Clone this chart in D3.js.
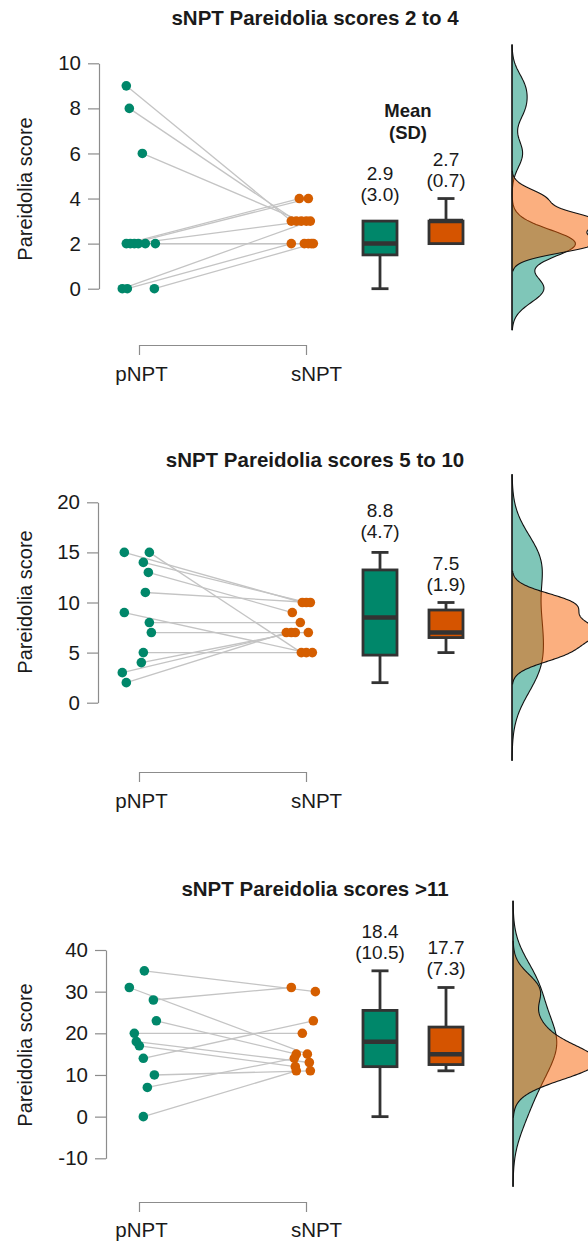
<!DOCTYPE html>
<html>
<head>
<meta charset="utf-8">
<script src="https://cdn.jsdelivr.net/npm/d3@7"></script>
<style>
  body { margin: 0; background: #fff; }
  text { font-family: "Liberation Sans", Arial, sans-serif; fill: #1a1a1a; }
</style>
</head>
<body>
<svg id="chart" width="588" height="1244"></svg>
<script>
// ---- data ----
const groups = ["pNPT", "sNPT"];
const titles = ["sNPT Pareidolia scores 2 to 4", "sNPT Pareidolia scores 5 to 10", "sNPT Pareidolia scores >11"];
const yLabel = "Pareidolia score";
const header = ["Mean", "(SD)"];

// panel 1
const ticks1 = [0, 2, 4, 6, 8, 10];
const pre1 = [9, 8, 6, 2, 2, 2, 2, 2, 2, 0, 0, 0];
const post1 = [3, 3, 3, 4, 4, 3, 2, 2, 2, 3, 2, 2];
const preJit1 = [-0.076, -0.058, 0.020, -0.076, -0.052, -0.028, -0.004, 0.038, 0.098, -0.100, -0.070, 0.092];
const postJit1 = [-0.088, -0.058, -0.028, -0.040, 0.014, 0.002, -0.010, 0.014, 0.032, 0.026, -0.088, 0.044];
const means1 = ["2.9", "2.7"];
const sds1 = ["(3.0)", "(0.7)"];

// panel 2
const ticks2 = [0, 5, 10, 15, 20];
const pre2 = [15, 15, 14, 13, 11, 9, 8, 7, 5, 4, 3, 2];
const post2 = [10, 5, 10, 9, 10, 5, 8, 7, 5, 7, 7, 7];
const preJit2 = [-0.088, 0.062, 0.026, 0.056, 0.038, -0.088, 0.062, 0.074, 0.026, 0.014, -0.100, -0.076];
const postJit2 = [-0.022, -0.028, 0.002, -0.082, 0.026, 0.002, -0.034, 0.014, 0.038, -0.064, -0.088, -0.118];
const means2 = ["8.8", "7.5"];
const sds2 = ["(4.7)", "(1.9)"];

// panel 3
const ticks3 = [-10, 0, 10, 20, 30, 40];
const pre3 = [35, 31, 28, 23, 20, 18, 17, 14, 10, 7, 0];
const post3 = [30, 15, 31, 15, 20, 13, 12, 23, 11, 14, 11];
const preJit3 = [0.032, -0.058, 0.086, 0.104, -0.028, -0.016, 0.002, 0.026, 0.092, 0.050, 0.026];
const postJit3 = [0.056, 0.008, -0.088, -0.058, -0.022, 0.020, -0.064, 0.044, 0.026, -0.070, -0.058];
const means3 = ["18.4", "17.7"];
const sds3 = ["(10.5)", "(7.3)"];

// ---- layout ----
const colDot = ["#00876a", "#d55e00"];
const colBox = ["#00876a", "#d55400"];
const colDens = ["#008d71", "#f86000"];

const panels = [
  { title: titles[0], ticks: ticks1, pre: pre1, post: post1, preJit: preJit1, postJit: postJit1, means: means1, sds: sds1,
    titleY: 25, axisX: 99, yTop: 63.3, yBot: 288.7, bracketY: 345, labelY: 381, yTitleY: 189, densX: 512, header: true, lift: 8 },
  { title: titles[1], ticks: ticks2, pre: pre2, post: post2, preJit: preJit2, postJit: postJit2, means: means2, sds: sds2,
    titleY: 467, axisX: 98, yTop: 502.3, yBot: 702.7, bracketY: 772, labelY: 808, yTitleY: 602, densX: 512, header: false, lift: 2 },
  { title: titles[2], ticks: ticks3, pre: pre3, post: post3, preJit: preJit3, postJit: postJit3, means: means3, sds: sds3,
    titleY: 896, axisX: 106, yTop: 950, yBot: 1158.3, bracketY: 1202, labelY: 1237, yTitleY: 1055, densX: 513, header: false, lift: 0 }
];

const svg = d3.select("#chart");
const xs = d3.scalePoint().domain(groups).range([139, 306]);
const xb = d3.scalePoint().domain(groups).range([380, 446]);

function boxStats(v) {
  const s = v.slice().sort(d3.ascending);
  const q1 = d3.quantile(s, 0.25), med = d3.quantile(s, 0.5), q3 = d3.quantile(s, 0.75);
  const iqr = q3 - q1;
  const lo = d3.min(s.filter(d => d >= q1 - 1.5 * iqr));
  const hi = d3.max(s.filter(d => d <= q3 + 1.5 * iqr));
  return { q1, med, q3, lo, hi };
}

// gaussian kernel density, R style (bw.nrd0, cut = 3)
function kde(v) {
  const s = v.slice().sort(d3.ascending);
  const iqr = d3.quantile(s, 0.75) - d3.quantile(s, 0.25);
  const bw = 0.9 * Math.min(d3.deviation(s), iqr / 1.34) * Math.pow(s.length, -0.2);
  const from = d3.min(s) - 3 * bw, to = d3.max(s) + 3 * bw;
  return d3.range(201).map(i => {
    const t = from + (to - from) * i / 200;
    const dens = d3.mean(s, d => Math.exp(-0.5 * ((t - d) / bw) ** 2)) / (bw * Math.sqrt(2 * Math.PI));
    return [t, dens];
  });
}

panels.forEach(p => {
  const g = svg.append("g");
  const y = d3.scaleLinear().domain(d3.extent(p.ticks)).range([p.yBot, p.yTop]);

  // title
  g.append("text").attr("x", 315).attr("y", p.titleY).attr("text-anchor", "middle")
    .style("font-size", "20.5px").style("font-weight", "bold").text(p.title);

  // y axis
  const ya = g.append("g").attr("transform", `translate(${p.axisX},0)`)
    .call(d3.axisLeft(y).tickValues(p.ticks).tickFormat(d => String(d))
      .tickSize(11).tickSizeOuter(0).tickPadding(7));
  ya.selectAll("path, line").attr("stroke", "#8c8c8c").attr("stroke-width", 1.2);
  ya.selectAll("text").style("font-size", "20.5px").attr("fill", "#1a1a1a")
    .style("font-family", "'Liberation Sans', Arial, sans-serif");

  g.append("text").attr("transform", `translate(32,${p.yTitleY}) rotate(-90)`)
    .attr("text-anchor", "middle").style("font-size", "20px").text(yLabel);

  // bottom bracket axis
  const xa = g.append("g").attr("transform", `translate(0,${p.bracketY})`)
    .call(d3.axisBottom(xs).tickSize(10).tickSizeOuter(0).tickPadding(p.labelY - p.bracketY - 10 - 14.5));
  xa.selectAll("path, line").attr("stroke", "#8c8c8c").attr("stroke-width", 1.2);
  xa.selectAll("text").style("font-size", "20.5px").attr("fill", "#1a1a1a")
    .style("font-family", "'Liberation Sans', Arial, sans-serif")
    .attr("dx", d => d === "sNPT" ? 10 : 2);

  // paired lines
  const step = xs.step();
  const px = (grp, j) => xs(grp) + j * step;
  g.append("g").selectAll("line").data(p.pre).join("line")
    .attr("x1", (d, i) => px("pNPT", p.preJit[i])).attr("y1", d => y(d))
    .attr("x2", (d, i) => px("sNPT", p.postJit[i])).attr("y2", (d, i) => y(p.post[i]))
    .attr("stroke", "#c4c4c4").attr("stroke-width", 1.3);

  // dots
  g.append("g").selectAll("circle").data(p.pre).join("circle")
    .attr("cx", (d, i) => px("pNPT", p.preJit[i])).attr("cy", d => y(d)).attr("r", 4.8)
    .attr("fill", colDot[0]);
  g.append("g").selectAll("circle").data(p.post).join("circle")
    .attr("cx", (d, i) => px("sNPT", p.postJit[i])).attr("cy", d => y(d)).attr("r", 4.8)
    .attr("fill", colDot[1]);

  // boxplots + mean labels
  [p.pre, p.post].forEach((vals, k) => {
    const st = boxStats(vals);
    const cx = xb(groups[k]), w = 34;
    const bg = g.append("g");
    if (st.hi > st.q3) {
      bg.append("line").attr("x1", cx).attr("x2", cx).attr("y1", y(st.q3)).attr("y2", y(st.hi));
      bg.append("line").attr("x1", cx - 8.5).attr("x2", cx + 8.5).attr("y1", y(st.hi)).attr("y2", y(st.hi));
    }
    if (st.lo < st.q1) {
      bg.append("line").attr("x1", cx).attr("x2", cx).attr("y1", y(st.q1)).attr("y2", y(st.lo));
      bg.append("line").attr("x1", cx - 8.5).attr("x2", cx + 8.5).attr("y1", y(st.lo)).attr("y2", y(st.lo));
    }
    bg.selectAll("line").attr("stroke", "#333").attr("stroke-width", 2.8);
    bg.append("rect").attr("x", cx - w / 2).attr("width", w)
      .attr("y", y(st.q3)).attr("height", y(st.q1) - y(st.q3))
      .attr("fill", colBox[k]).attr("stroke", "#333").attr("stroke-width", 2.8);
    bg.append("line").attr("x1", cx - w / 2).attr("x2", cx + w / 2)
      .attr("y1", y(st.med)).attr("y2", y(st.med)).attr("stroke", "#333").attr("stroke-width", 4.5);

    const top = y(Math.max(st.hi, st.q3)) - (k === 0 ? p.lift : 0);
    g.append("text").attr("x", cx).attr("y", top - 33).attr("text-anchor", "middle")
      .style("font-size", "19px").text(p.means[k]);
    g.append("text").attr("x", cx).attr("y", top - 12).attr("text-anchor", "middle")
      .style("font-size", "19px").text(p.sds[k]);
  });

  if (p.header) {
    header.forEach((h, i) => {
      g.append("text").attr("x", 408).attr("y", 117 + i * 22).attr("text-anchor", "middle")
        .style("font-size", "18.5px").style("font-weight", "bold").text(h);
    });
  }

  // densities
  const d0 = kde(p.pre), d1 = kde(p.post);
  const xd = d3.scaleLinear().domain([0, d3.max(d0.concat(d1), d => d[1])]).range([p.densX, 597]);
  const area = d3.area().y(d => y(d[0])).x0(p.densX).x1(d => xd(d[1]));
  const line = d3.line().y(d => y(d[0])).x(d => xd(d[1]));
  [d0, d1].forEach((dd, k) => {
    g.append("path").datum(dd).attr("d", area).attr("fill", colDens[k]).attr("fill-opacity", 0.5);
    g.append("path").datum(dd).attr("d", line).attr("fill", "none").attr("stroke", "#111").attr("stroke-width", 1.1);
  });
  const ext = d3.extent(d0.concat(d1), d => d[0]);
  g.append("line").attr("x1", p.densX).attr("x2", p.densX).attr("y1", y(ext[0])).attr("y2", y(ext[1]))
    .attr("stroke", "#111").attr("stroke-width", 1.6);
});
</script>
</body>
</html>
